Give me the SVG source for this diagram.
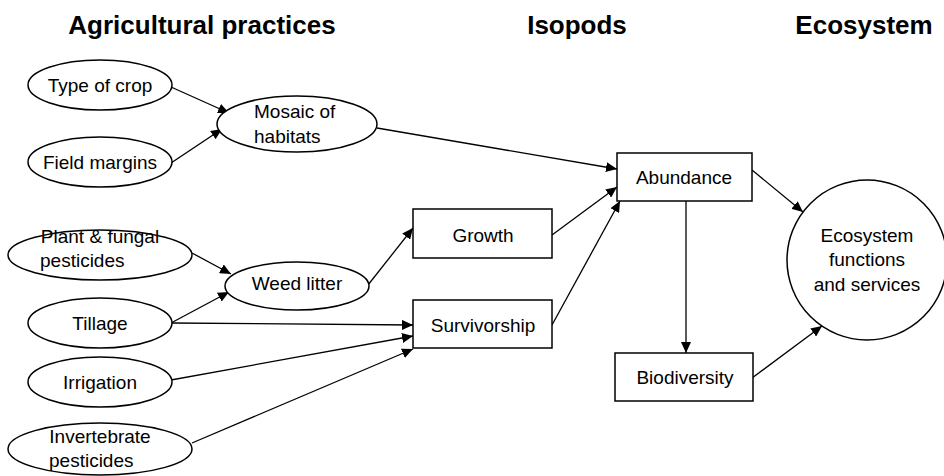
<svg xmlns="http://www.w3.org/2000/svg" width="944" height="476" viewBox="0 0 944 476">
<style>
.t{font-family:"Liberation Sans",Arial,sans-serif;font-size:26px;font-weight:bold;fill:#000;text-anchor:middle}
.n{font-family:"Liberation Sans",Arial,sans-serif;font-size:19px;fill:#000;text-anchor:middle}
.l{text-anchor:start}
.s{fill:#fff;stroke:#000;stroke-width:1.5}
.c{fill:none;stroke:#000;stroke-width:1.3;marker-end:url(#a)}
</style>
<defs>
<marker id="a" markerUnits="userSpaceOnUse" markerWidth="12" markerHeight="10" refX="11" refY="5" orient="auto">
<path d="M0,0 L11,5 L0,10 Z" fill="#000"/>
</marker>
</defs>
<rect width="944" height="476" fill="#fff"/>
<text class="t" x="202" y="34">Agricultural practices</text>
<text class="t" x="577" y="34">Isopods</text>
<text class="t" x="864" y="34">Ecosystem</text>
<g id="connectors">
<line class="c" x1="171" y1="87" x2="229" y2="113"/>
<line class="c" x1="171" y1="163" x2="222" y2="129"/>
<line class="c" x1="377" y1="128" x2="617" y2="169"/>
<line class="c" x1="192" y1="253" x2="231" y2="274"/>
<line class="c" x1="171" y1="323" x2="229" y2="292"/>
<line class="c" x1="171" y1="323" x2="413" y2="325"/>
<line class="c" x1="171" y1="380" x2="413" y2="336"/>
<line class="c" x1="192" y1="443" x2="413" y2="349"/>
<line class="c" x1="368" y1="285" x2="413" y2="228"/>
<line class="c" x1="552" y1="235" x2="617" y2="187"/>
<line class="c" x1="552" y1="325" x2="620" y2="201"/>
<line class="c" x1="686" y1="201" x2="686" y2="353"/>
<line class="c" x1="752" y1="170" x2="803" y2="212"/>
<line class="c" x1="752" y1="378" x2="822" y2="326"/>
</g>
<g id="type-of-crop"><ellipse class="s" cx="100" cy="85" rx="72" ry="25"/><text class="n" x="100" y="92">Type of crop</text></g>
<g id="field-margins"><ellipse class="s" cx="100" cy="162" rx="72" ry="25"/><text class="n" x="100" y="169">Field margins</text></g>
<g id="mosaic"><ellipse class="s" cx="297" cy="124" rx="80" ry="28"/><text class="n l" x="254" y="118">Mosaic of</text><text class="n l" x="254" y="143">habitats</text></g>
<g id="plant-fungal"><ellipse class="s" cx="100" cy="255" rx="92" ry="25"/><text class="n" x="100" y="243">Plant &amp; fungal</text><text class="n l" x="40" y="267">pesticides</text></g>
<g id="weed-litter"><ellipse class="s" cx="297" cy="286" rx="72" ry="24"/><text class="n" x="297" y="290">Weed litter</text></g>
<g id="tillage"><ellipse class="s" cx="100" cy="323" rx="72" ry="25"/><text class="n" x="100" y="330">Tillage</text></g>
<g id="irrigation"><ellipse class="s" cx="100" cy="382" rx="72" ry="25"/><text class="n" x="100" y="389">Irrigation</text></g>
<g id="invertebrate"><ellipse class="s" cx="100" cy="449" rx="92" ry="26"/><text class="n" x="100" y="443">Invertebrate</text><text class="n l" x="49" y="467">pesticides</text></g>
<g id="growth"><rect class="s" x="413" y="209" width="139" height="49"/><text class="n" x="483" y="242">Growth</text></g>
<g id="survivorship"><rect class="s" x="413" y="300" width="139" height="48"/><text class="n" x="483" y="332">Survivorship</text></g>
<g id="abundance"><rect class="s" x="617" y="153" width="135" height="48"/><text class="n" x="684" y="184">Abundance</text></g>
<g id="biodiversity"><rect class="s" x="615" y="353" width="138" height="48"/><text class="n" x="685" y="384">Biodiversity</text></g>
<g id="ecosystem-functions"><circle class="s" cx="867" cy="260" r="80"/><text class="n" x="867" y="242">Ecosystem</text><text class="n" x="867" y="266">functions</text><text class="n" x="867" y="291">and services</text></g>
</svg>
